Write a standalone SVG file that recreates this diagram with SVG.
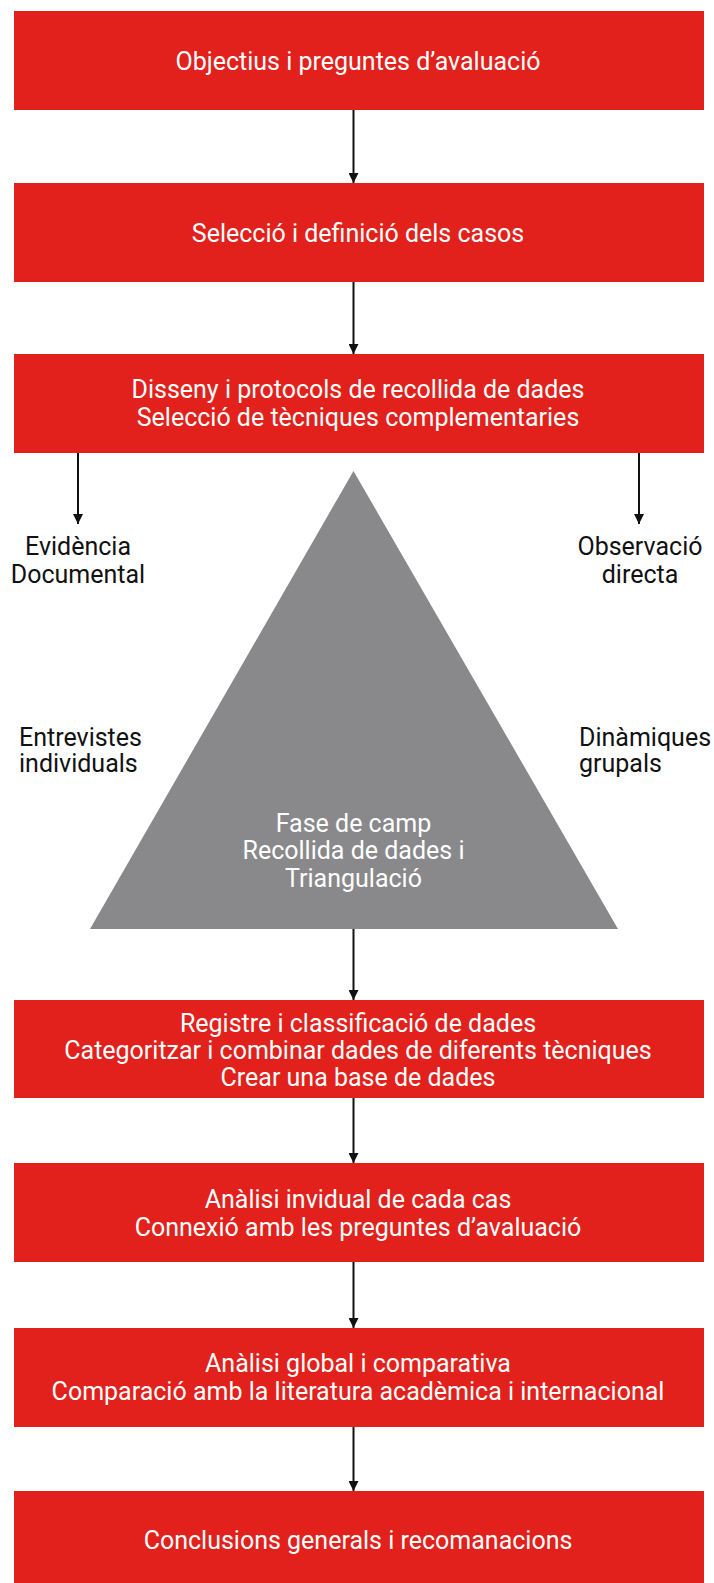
<svg xmlns="http://www.w3.org/2000/svg" width="714" height="1583" viewBox="0 0 714 1583">
<defs>
<marker id="ah" viewBox="0 0 10 10" refX="10" refY="5" markerWidth="10" markerHeight="10" markerUnits="userSpaceOnUse" orient="auto">
<path d="M0,0 L10,5 L0,10 Z" fill="#111"/>
</marker>
</defs>
<style>
.box{fill:#e2211c}
.tri{fill:#89898b}
.wt{font-family:Roboto,"Liberation Sans",sans-serif;font-size:25px;fill:#fff;text-anchor:middle}
.bt{font-family:Roboto,"Liberation Sans",sans-serif;font-size:25px;fill:#111}
.c{text-anchor:middle}
.con{stroke:#111;stroke-width:2;fill:none;marker-end:url(#ah)}
</style>
<rect width="714" height="1583" fill="#fff"/>
<g id="connectors">
<line class="con" x1="353.5" y1="110" x2="353.5" y2="183"/>
<line class="con" x1="353.5" y1="282" x2="353.5" y2="354"/>
<line class="con" x1="78" y1="453" x2="78" y2="524"/>
<line class="con" x1="639" y1="453" x2="639" y2="524"/>
<line class="con" x1="353.5" y1="929" x2="353.5" y2="1000"/>
<line class="con" x1="353.5" y1="1098" x2="353.5" y2="1163"/>
<line class="con" x1="353.5" y1="1262" x2="353.5" y2="1328"/>
<line class="con" x1="353.5" y1="1427" x2="353.5" y2="1491"/>
</g>
<g id="n1"><rect class="box" x="14" y="11" width="690" height="99"/>
<text class="wt" x="358" y="70">Objectius i preguntes d’avaluació</text></g>
<g id="n2"><rect class="box" x="14" y="183" width="690" height="99"/>
<text class="wt" x="358" y="242">Selecció i definició dels casos</text></g>
<g id="n3"><rect class="box" x="14" y="354" width="690" height="99"/>
<text class="wt" x="358" y="398">Disseny i protocols de recollida de dades</text>
<text class="wt" x="358" y="426">Selecció de tècniques complementaries</text></g>
<g id="tri"><polygon class="tri" points="353.5,471 90,929 618,929"/>
<text class="wt" x="353.5" y="832">Fase de camp</text>
<text class="wt" x="353.5" y="859">Recollida de dades i</text>
<text class="wt" x="353.5" y="887">Triangulació</text></g>
<g id="l1"><text class="bt c" x="78" y="555">Evidència</text><text class="bt c" x="78" y="583">Documental</text></g>
<g id="l2"><text class="bt c" x="640" y="555">Observació</text><text class="bt c" x="640" y="583">directa</text></g>
<g id="l3"><text class="bt" x="19" y="746">Entrevistes</text><text class="bt" x="19" y="772">individuals</text></g>
<g id="l4"><text class="bt" x="579" y="746">Dinàmiques</text><text class="bt" x="579" y="772">grupals</text></g>
<g id="n4"><rect class="box" x="14" y="1000" width="690" height="98"/>
<text class="wt" x="358" y="1032">Registre i classificació de dades</text>
<text class="wt" x="358" y="1059">Categoritzar i combinar dades de diferents tècniques</text>
<text class="wt" x="358" y="1086">Crear una base de dades</text></g>
<g id="n5"><rect class="box" x="14" y="1163" width="690" height="99"/>
<text class="wt" x="358" y="1208">Anàlisi invidual de cada cas</text>
<text class="wt" x="358" y="1236">Connexió amb les preguntes d’avaluació</text></g>
<g id="n6"><rect class="box" x="14" y="1328" width="690" height="99"/>
<text class="wt" x="358" y="1372">Anàlisi global i comparativa</text>
<text class="wt" x="358" y="1400">Comparació amb la literatura acadèmica i internacional</text></g>
<g id="n7"><rect class="box" x="14" y="1491" width="690" height="92"/>
<text class="wt" x="358" y="1549">Conclusions generals i recomanacions</text></g>
</svg>
